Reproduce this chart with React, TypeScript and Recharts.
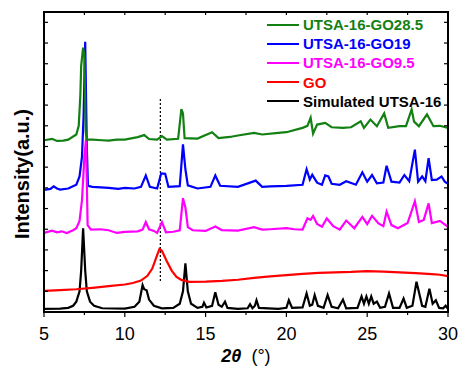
import React from 'react';
import { LineChart, Line, XAxis, YAxis, ReferenceLine } from 'recharts';

// 2theta / intensity pairs, stacked offsets included
const simulated: [number, number][] = [
  [5, 0.15], [6, 0.16], [6.5, 0.2], [6.8, 0.3], [7.0, 0.5], [7.2, 1.0], [7.3, 2.0], [7.42, 4.05],
  [7.55, 2.0], [7.65, 1.0], [7.85, 0.5], [8.1, 0.3], [8.6, 0.18], [10, 0.16], [10.6, 0.25], [10.9, 0.5],
  [11.1, 1.3], [11.2, 1.1], [11.35, 1.05], [11.5, 0.6], [11.8, 0.3], [12.3, 0.18], [13.0, 0.2], [13.4, 0.4],
  [13.6, 1.0], [13.75, 2.35], [13.9, 1.0], [14.1, 0.4], [14.5, 0.2], [14.8, 0.25], [14.9, 0.45], [15.05, 0.22],
  [15.4, 0.3], [15.6, 0.95], [15.8, 0.35], [16.0, 0.25], [16.2, 0.5], [16.35, 0.2], [17.0, 0.15], [17.6, 0.18],
  [17.75, 0.38], [17.9, 0.18], [18.05, 0.3], [18.15, 0.57], [18.3, 0.2], [19.5, 0.15], [20.0, 0.2], [20.15, 0.57],
  [20.35, 0.2], [21.0, 0.22], [21.25, 0.9], [21.45, 0.3], [21.6, 0.35], [21.75, 0.82], [21.95, 0.3], [22.3, 0.2],
  [22.55, 0.82], [22.8, 0.25], [23.2, 0.18], [23.5, 0.6], [23.7, 0.18], [24.4, 0.2], [24.65, 0.75], [24.8, 0.4],
  [24.95, 0.75], [25.1, 0.4], [25.25, 0.75], [25.4, 0.4], [25.6, 0.5], [25.8, 0.2], [26.1, 0.25], [26.35, 0.9],
  [26.6, 0.2], [27.0, 0.2], [27.25, 0.65], [27.45, 0.2], [27.8, 0.3], [28.05, 1.46], [28.25, 0.8], [28.4, 0.3],
  [28.6, 0.25], [28.85, 1.13], [29.05, 0.4], [29.25, 0.57], [29.45, 0.2], [29.7, 0.18], [29.85, 0.3], [30, 0.15],
];

const go: [number, number][] = [
  [5, 1.02], [6, 1.06], [7, 1.1], [8, 1.17], [9, 1.25], [10, 1.33], [10.5, 1.4], [11, 1.52], [11.4, 1.75],
  [11.7, 2.1], [12.0, 2.75], [12.15, 3.05], [12.3, 2.95], [12.6, 2.45], [12.9, 2.0], [13.2, 1.7], [13.5, 1.55],
  [14, 1.46], [15, 1.47], [16, 1.5], [17, 1.56], [18, 1.65], [19, 1.72], [20, 1.78], [21, 1.84], [22, 1.89],
  [23, 1.92], [24, 1.94], [25, 1.98], [26, 1.95], [27, 1.92], [28, 1.88], [29, 1.83], [29.5, 1.8], [30, 1.73],
];

const go95: [number, number][] = [
  [5, 3.82], [5.5, 3.93], [5.8, 3.85], [6.1, 3.9], [6.4, 3.82], [6.8, 3.95], [7.0, 4.05], [7.2, 4.4],
  [7.35, 5.4], [7.5, 7.5], [7.6, 8.35], [7.7, 4.2], [7.9, 3.98], [8.5, 4.0], [9.0, 3.95], [9.5, 3.82],
  [10.0, 3.87], [10.8, 3.9], [11.1, 3.98], [11.3, 4.35], [11.5, 4.0], [11.8, 3.92], [12.0, 3.82], [12.3, 4.35],
  [12.55, 3.85], [13.0, 3.88], [13.4, 3.95], [13.6, 5.5], [13.75, 5.05], [13.9, 4.1], [14.2, 3.95], [15.0, 3.92],
  [15.6, 4.13], [16.0, 3.96], [17.0, 3.93], [18.0, 4.1], [18.5, 3.98], [19.0, 4.0], [20.0, 4.05], [20.5, 4.0],
  [21.0, 3.98], [21.3, 4.53], [21.5, 4.45], [21.65, 4.64], [21.9, 4.25], [22.2, 4.12], [22.5, 4.52], [22.9, 4.15],
  [23.3, 3.98], [23.7, 4.42], [24.2, 4.05], [24.7, 4.6], [25.0, 4.25], [25.3, 4.65], [25.7, 4.28], [26.0, 4.15],
  [26.2, 4.85], [26.5, 4.2], [26.9, 4.05], [27.5, 4.3], [27.95, 5.35], [28.2, 4.35], [28.5, 4.45], [28.8, 5.25],
  [29.0, 4.3], [29.5, 4.4], [30, 4.12],
];

const go19: [number, number][] = [
  [5, 5.9], [5.4, 5.95], [5.6, 6.07], [5.8, 5.97], [6.0, 5.92], [6.5, 5.97], [7.0, 6.15], [7.2, 6.55],
  [7.35, 7.5], [7.45, 9.5], [7.55, 13.06], [7.65, 8.0], [7.72, 6.1], [8.0, 6.05], [9.0, 6.0], [9.6, 5.95],
  [10.0, 6.0], [10.6, 5.97], [11.0, 6.05], [11.3, 6.6], [11.55, 6.05], [12.0, 5.97], [12.25, 6.7], [12.5, 6.68],
  [12.7, 6.05], [13.4, 6.08], [13.6, 8.1], [13.75, 6.9], [13.9, 6.12], [14.5, 5.97], [15.3, 6.05], [15.6, 6.6],
  [15.9, 6.1], [17.0, 6.05], [18.1, 6.35], [18.5, 6.05], [19.0, 6.07], [20.0, 6.1], [21.0, 6.15], [21.25, 6.9],
  [21.45, 6.4], [21.6, 6.63], [21.9, 6.25], [22.2, 6.15], [22.4, 6.6], [22.6, 6.55], [22.8, 6.2], [23.3, 6.15],
  [23.7, 6.32], [24.3, 6.15], [24.7, 6.75], [25.0, 6.3], [25.3, 6.62], [25.6, 6.22], [26.0, 6.26], [26.2, 7.07],
  [26.5, 6.3], [27.0, 6.25], [27.3, 6.62], [27.6, 6.32], [27.95, 7.85], [28.15, 6.3], [28.4, 6.55], [28.6, 6.32],
  [28.8, 7.44], [29.0, 6.38], [29.3, 6.4], [29.6, 6.55], [29.8, 6.3], [30, 6.2],
];

const go285: [number, number][] = [
  [5, 8.3], [5.5, 8.37], [5.8, 8.27], [6.2, 8.28], [6.5, 8.33], [7.0, 8.58], [7.15, 9.0], [7.25, 10.5],
  [7.3, 11.9], [7.42, 12.78], [7.5, 12.4], [7.58, 8.7], [7.65, 8.33], [8.0, 8.33], [8.6, 8.3], [9.0, 8.28],
  [9.5, 8.33], [10.0, 8.33], [10.8, 8.45], [11.2, 8.55], [11.5, 8.36], [12.0, 8.33], [12.3, 8.5], [12.6, 8.33],
  [13.3, 8.37], [13.5, 9.8], [13.6, 9.6], [13.7, 8.4], [14.5, 8.38], [15.4, 8.69], [15.8, 8.41], [16.5, 8.46],
  [17.0, 8.53], [18.0, 8.66], [18.5, 8.58], [19.5, 8.66], [20.0, 8.69], [21.0, 8.9], [21.3, 9.0], [21.5, 9.39],
  [21.65, 8.62], [21.9, 9.06], [22.4, 9.14], [22.8, 8.93], [23.5, 8.9], [24.0, 8.93], [24.6, 9.22], [24.8, 8.9],
  [25.2, 9.3], [25.6, 8.98], [26.05, 9.6], [26.3, 8.9], [27.0, 8.98], [27.4, 8.98], [27.75, 9.79], [27.9, 9.2],
  [28.2, 8.98], [28.7, 9.55], [29.1, 8.98], [29.5, 9.0], [30, 8.9],
];

const xTicks = [5, 7.5, 10, 12.5, 15, 17.5, 20, 22.5, 25, 27.5, 30];
const yTicks = [1, 2, 3, 4, 5, 6, 7, 8, 9, 10, 11, 12, 13, 14];
const X_MIN = 5;
const X_MAX = 30;
const Y_MIN = 0;
const Y_MAX = 14.5;

const series = [
  { name: 'Simulated UTSA-16', data: simulated, color: '#000000' },
  { name: 'GO', data: go, color: '#ff0000' },
  { name: 'UTSA-16-GO19', data: go19, color: '#0000ff' },
  { name: 'UTSA-16-GO9.5', data: go95, color: '#ff00ff' },
  { name: 'UTSA-16-GO28.5', data: go285, color: '#138013' },
];

const legendOrder = ['UTSA-16-GO28.5', 'UTSA-16-GO19', 'UTSA-16-GO9.5', 'GO', 'Simulated UTSA-16'];

const toRows = (pts: [number, number][]) => pts.map(([x, y]) => ({ x, y }));

const font = 'Arial, "Liberation Sans", sans-serif';

// plot box (chart size minus margins / axis sizes below)
const W = 460;
const H = 366;
const M = { top: 12, right: 12, bottom: 24, left: 43 };
const Y_AXIS_W = 1;
const X_AXIS_H = 30;
const plotL = M.left + Y_AXIS_W;
const plotR = W - M.right;
const plotT = M.top;
const plotB = H - M.bottom - X_AXIS_H;
const px = (v: number) => plotL + ((v - X_MIN) / (X_MAX - X_MIN)) * (plotR - plotL);
const py = (v: number) => plotB - ((v - Y_MIN) / (Y_MAX - Y_MIN)) * (plotB - plotT);

// frame with inward ticks, drawn over the chart
const Frame = () => (
  <svg width={W} height={H} style={{ position: 'absolute', left: 0, top: 0, pointerEvents: 'none' }}>
    <g stroke="#000" strokeWidth={1.2}>
      {yTicks.map((t) => (
        <line key={`l${t}`} x1={plotL} x2={plotL + 4} y1={py(t)} y2={py(t)} />
      ))}
      {yTicks.map((t) => (
        <line key={`r${t}`} x1={plotR} x2={plotR - 4} y1={py(t)} y2={py(t)} />
      ))}
      {xTicks.map((t) => (
        <line key={`t${t}`} x1={px(t)} x2={px(t)} y1={plotT} y2={plotT + 3} />
      ))}
      {xTicks.map((t) => (
        <line key={`b${t}`} x1={px(t)} x2={px(t)} y1={plotB} y2={plotB + (t % 5 === 0 ? 5 : 3)} />
      ))}
    </g>
    <rect x={plotL} y={plotT} width={plotR - plotL} height={plotB - plotT} fill="none" stroke="#000" strokeWidth={2} />
  </svg>
);

export default function App() {
  return (
    <div style={{ position: 'absolute', left: 0, top: 0, width: W, height: H, overflow: 'hidden', fontFamily: font }}>
      <LineChart width={W} height={H} margin={M}>
        <XAxis
          dataKey="x"
          type="number"
          domain={[X_MIN, X_MAX]}
          ticks={xTicks}
          allowDataOverflow
          height={X_AXIS_H}
          axisLine={false}
          tickLine={false}
          tickSize={4}
          tickMargin={11}
          tickFormatter={(v: number) => (v % 5 === 0 ? String(v) : '')}
          tick={{ fill: '#000', fontSize: 18, fontFamily: font }}
        />
        <YAxis
          type="number"
          domain={[Y_MIN, Y_MAX]}
          ticks={yTicks}
          allowDataOverflow
          width={Y_AXIS_W}
          tick={false}
          axisLine={false}
          tickLine={false}
        />
        <ReferenceLine
          segment={[{ x: 12.2, y: 1.5 }, { x: 12.2, y: 10.3 }]}
          stroke="#000"
          strokeWidth={1.2}
          strokeDasharray="2 2"
        />
        {series.map((s) => (
          <Line
            key={s.name}
            data={toRows(s.data)}
            dataKey="y"
            type="linear"
            stroke={s.color}
            strokeWidth={2.2}
            dot={false}
            activeDot={false}
            isAnimationActive={false}
          />
        ))}
      </LineChart>

      <Frame />

      {/* legend */}
      <div style={{ position: 'absolute', left: 267, top: 15 }}>
        {legendOrder.map((n) => {
          const s = series.find((k) => k.name === n)!;
          return (
            <div key={n} style={{ display: 'flex', alignItems: 'center', height: 19.2 }}>
              <div style={{ width: 32, height: 2, background: s.color, marginRight: 4 }} />
              <span style={{ color: s.color, fontWeight: 'bold', fontSize: 15, whiteSpace: 'nowrap' }}>{n}</span>
            </div>
          );
        })}
      </div>

      {/* axis titles */}
      <div style={{ position: 'absolute', left: 186, top: 347, width: 120, height: 18, lineHeight: '18px', textAlign: 'center', fontSize: 18 }}>
        <span style={{ fontWeight: 'bold', fontStyle: 'italic' }}>2θ</span>
        <span>&nbsp;&nbsp;(°)</span>
      </div>
      <div
        style={{
          position: 'absolute',
          left: 22,
          top: 174,
          transform: 'translate(-50%, -50%) rotate(-90deg)',
          fontSize: 20,
          fontWeight: 'bold',
          whiteSpace: 'nowrap',
        }}
      >
        Intensity(a.u.)
      </div>
    </div>
  );
}
